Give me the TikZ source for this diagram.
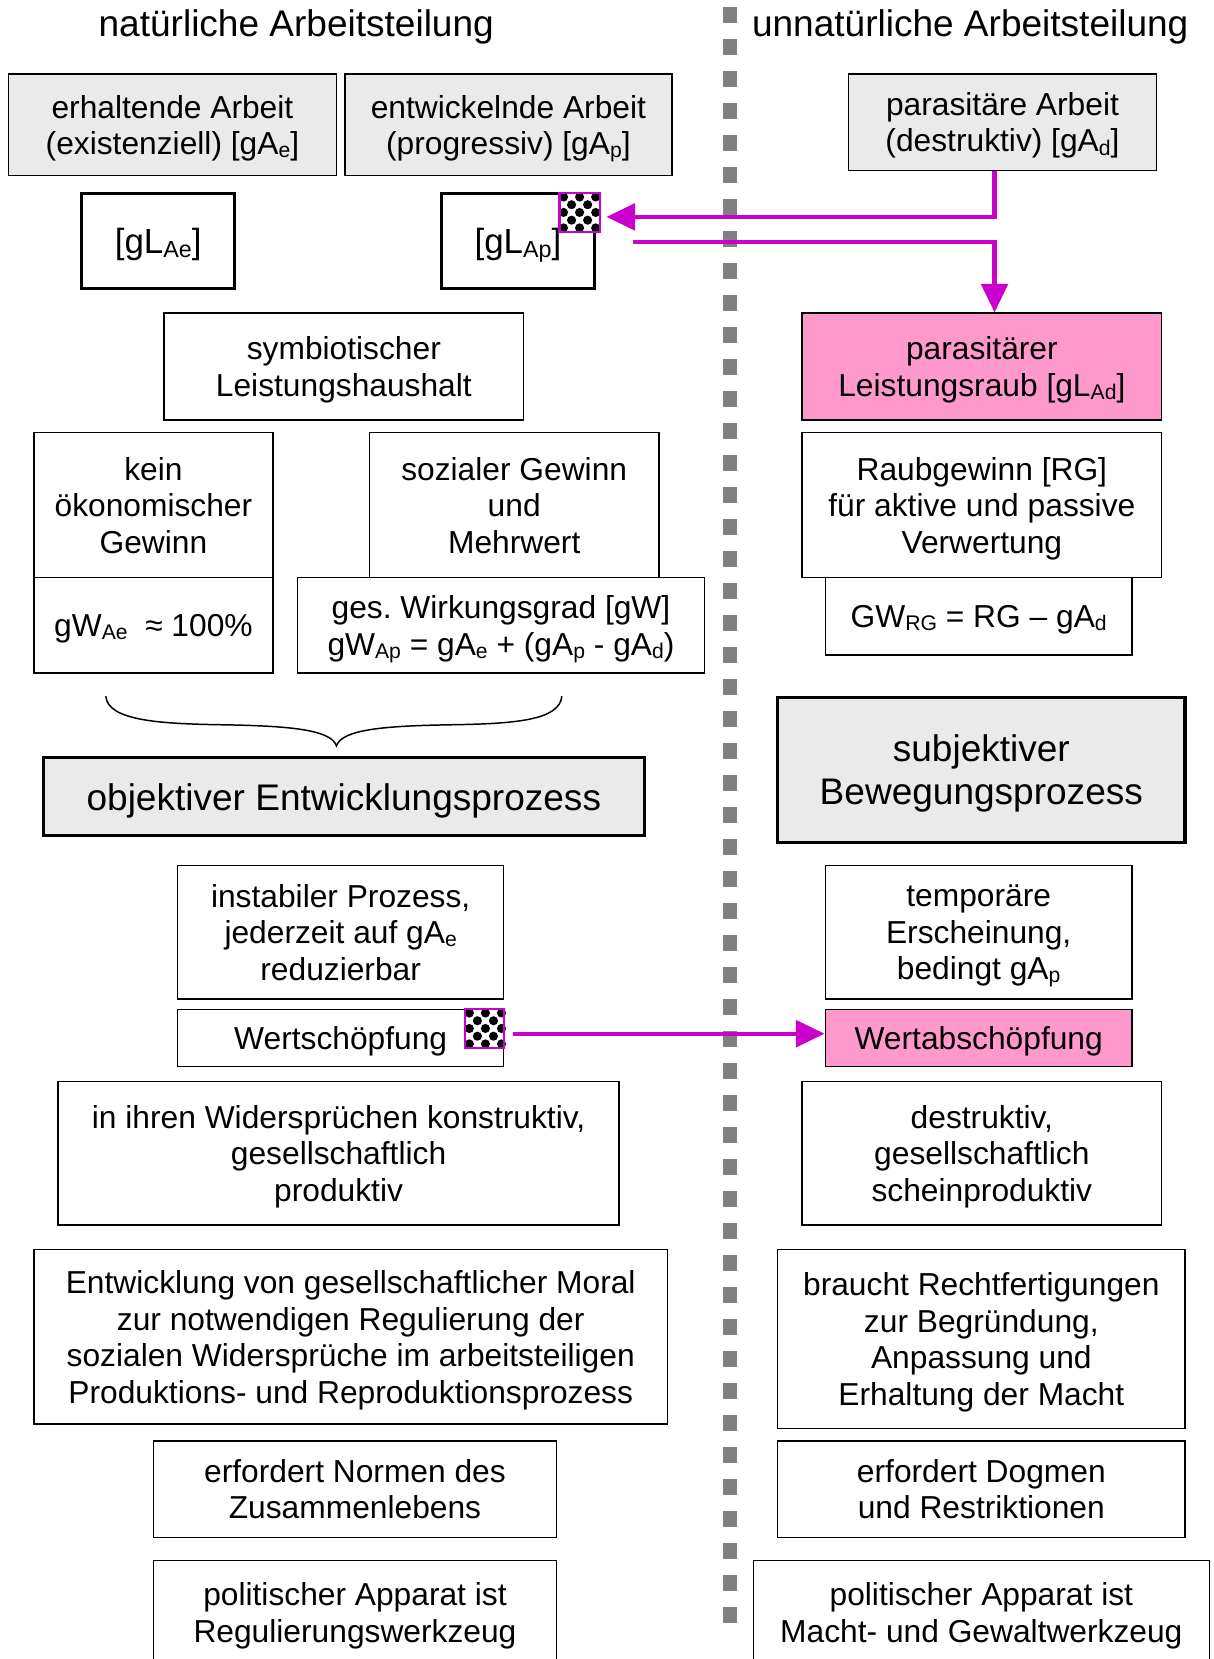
\documentclass[tikz,border=0pt]{standalone}
\usepackage{fontspec}
\setmainfont{Liberation Sans}
\usetikzlibrary{arrows.meta,calc}
\definecolor{boxgray}{HTML}{EAEAEA}
\definecolor{pinkfill}{HTML}{FF99CC}
\definecolor{mag}{HTML}{CC00CC}
\definecolor{divgray}{HTML}{808080}
\newcommand\bodyfont{\fontsize{30}{34.5}\selectfont}
\newcommand\gLfont{\fontsize{33}{38}\selectfont}
\newcommand\bigfont{\fontsize{35}{40}\selectfont}
\newcommand\sbs[1]{\raisebox{-3pt}[0pt][0pt]{\fontsize{20}{20}\selectfont #1}}
\newcommand\sbsL[1]{\raisebox{-3pt}[0pt][0pt]{\fontsize{22}{22}\selectfont #1}}
\newcommand\checkicon[1]{%
  \begin{scope}[shift={(#1.north west)}]
    \foreach \i in {0,...,4}{\foreach \j in {0,...,4}{%
      \pgfmathtruncatemacro\ckodd{mod(\i+\j,2)}%
      \ifnum\ckodd=0
        \fill[black] (\i*7.6+3.8,\j*7.3+3.65) circle (4.3pt);
      \fi}}
  \end{scope}
  \draw[mag, line width=2pt] (#1.north west) rectangle (#1.south east);}
\begin{document}
\begin{tikzpicture}[x=1pt,y=-1pt,
  bx/.style 2 args={draw, line width=1.4pt, align=center, inner sep=0pt,
    font=\bodyfont, text depth=0pt, minimum width=#1pt, minimum height=#2pt},
  thick box/.style={line width=3pt},
  grayfill/.style={fill=boxgray},
  pinkbox/.style={fill=pinkfill},
  title/.style={font=\bigfont, inner sep=0pt},
  iconbox/.style 2 args={fill=white, inner sep=0pt, minimum width=#1pt, minimum height=#2pt},
  arr/.style={mag, line width=4pt, -{Triangle[length=27pt,width=25pt]}}]
\useasboundingbox (0,0) rectangle (1147,1568);
\clip (0,0) rectangle (1147,1568);
\fill[white] (0,0) rectangle (1147,1568);

% divider
\draw[divgray, line width=14pt, dash pattern=on 15pt off 15.25pt] (690,6.6) -- (690,1536);

% titles
\node[title] (tl) at (280,25) {natürliche Arbeitsteilung};
\node[title] (tr) at (917,25) {unnatürliche Arbeitsteilung};

% row 1
\node[bx={310}{96}, grayfill] (erh) at (163,118) {erhaltende Arbeit\\(existenziell) [gA\sbs{e}]};
\node[bx={309}{96}, grayfill] (ent) at (480.5,118) {entwickelnde Arbeit\\(progressiv) [gA\sbs{p}]};
\node[bx={291}{91}, grayfill] (par) at (947.5,115.5) {parasitäre Arbeit\\(destruktiv) [gA\sbs{d}]};

% row 2
\node[bx={145}{90}, thick box, font=\gLfont] (gLAe) at (149.5,228) {[gL\sbsL{Ae}]};
\node[bx={145}{90}, thick box, font=\gLfont] (gLAp) at (489.5,228) {[gL\sbsL{Ap}]};
\node[iconbox={38}{36.5}] (ic1) at (548,201) {};
\checkicon{ic1}

% row 3
\node[bx={340}{101}] (sym) at (325,346.5) {symbiotischer\\Leistungshaushalt};
\node[bx={340}{101}, pinkbox] (raub) at (928,346.5) {parasitärer\\Leistungsraub [gL\sbs{Ad}]};

% row 4
\node[bx={226}{137}] (kein) at (145,477.5) {kein\\ökonomischer\\Gewinn};
\node[bx={274}{137}] (soz) at (486,477.5) {sozialer Gewinn\\und\\Mehrwert};
\node[bx={340}{137}] (RG) at (928,477.5) {Raubgewinn [RG]\\für aktive und passive\\Verwertung};

% row 5
\node[bx={226}{90}] (gWAe) at (145,591) {gW\sbs{Ae}\ \ ≈ 100\%};
\node[bx={385}{90}] (ges) at (473.5,591) {ges.\ Wirkungsgrad [gW]\\gW\sbs{Ap} = gA\sbs{e} + (gA\sbs{p} - gA\sbs{d})};
\node[bx={290}{73}] (GWRG) at (925,582.5) {GW\sbs{RG} = RG – gA\sbs{d}};

% brace
\draw[line width=1.4pt] (100,658) .. controls (102,681) and (150,684) .. (209,685)
  .. controls (270,686) and (313,689) .. (318,705)
  .. controls (323,689) and (366,686) .. (427,685)
  .. controls (486,684) and (529,681) .. (531,658);

% process boxes
\node[bx={568}{74}, thick box, grayfill, font=\bigfont] (obj) at (325,753) {objektiver Entwicklungsprozess};
\node[bx={385}{137}, thick box, grayfill, font=\bigfont] (subj) at (927.5,727.5) {subjektiver\\Bewegungsprozess};

% rows below
\node[bx={308}{126}] (inst) at (322,881) {instabiler Prozess,\\jederzeit auf gA\sbs{e}\\reduzierbar};
\node[bx={290}{126}] (temp) at (925,881) {temporäre\\Erscheinung,\\bedingt gA\sbs{p}};

\node[bx={308}{54}] (wert) at (322,981) {Wertschöpfung};
\node[iconbox={36}{36}] (ic2) at (458,972) {};
\checkicon{ic2}
\node[bx={290}{54}, pinkbox] (wab) at (925,981) {Wertabschöpfung};

\node[bx={530}{136}] (konst) at (320,1090) {in ihren Widersprüchen konstruktiv,\\gesellschaftlich\\produktiv};
\node[bx={340}{136}] (destr) at (928,1090) {destruktiv,\\gesellschaftlich\\scheinproduktiv};

\node[bx={599}{165}] (entw) at (331.5,1263.5) {Entwicklung von gesellschaftlicher Moral\\zur notwendigen Regulierung der\\sozialen Widersprüche im arbeitsteiligen\\Produktions- und Reproduktionsprozess};
\node[bx={385}{169}] (braucht) at (927.5,1265.5) {braucht Rechtfertigungen\\zur Begründung,\\Anpassung und\\Erhaltung der Macht};

\node[bx={381}{91}] (normen) at (335.5,1407.5) {erfordert Normen des\\Zusammenlebens};
\node[bx={385}{91}] (dogmen) at (927.5,1407.5) {erfordert Dogmen\\und Restriktionen};

\node[bx={381}{98}] (polL) at (335.5,1524) {politischer Apparat ist\\Regulierungswerkzeug};
\node[bx={431}{98}] (polR) at (927.5,1524) {politischer Apparat ist\\Macht- und Gewaltwerkzeug};

% connectors
\coordinate (k1) at (940,205);
\coordinate (s2) at (598,229);
\coordinate (s3) at (485,977);
\draw[arr, shorten >=6pt] (par.south -| k1) -- (k1) -- (ic1.east |- k1);
\draw[arr] (s2) -| (raub.north -| k1);
\draw[arr] (s3) -- (wab.west |- s3);
\end{tikzpicture}
\end{document}
